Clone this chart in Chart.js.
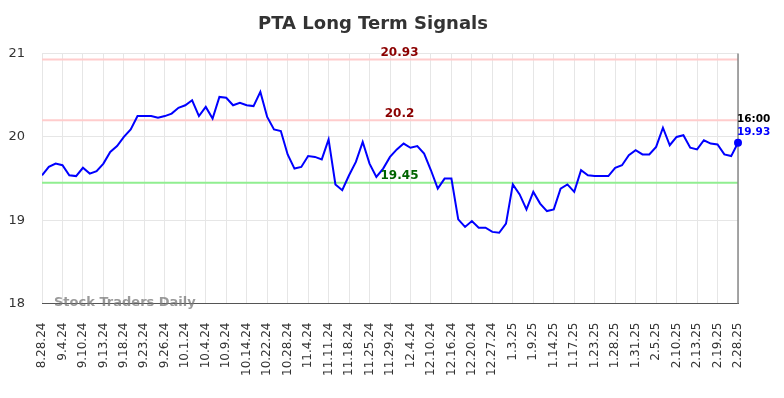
<!DOCTYPE html>
<html>
<head>
<meta charset="utf-8">
<script src="https://cdn.jsdelivr.net/npm/chart.js@4.4.1/dist/chart.umd.min.js"></script>
<style>
    html, body { margin: 0; padding: 0; background: #fff; }
    #wrap { width: 784px; height: 398px; }
</style>
</head>
<body>
<div id="wrap"><canvas id="signalChart"></canvas></div>
<script>
"use strict";

/// DATA
const tickLabels = [
    '8.28.24', '9.4.24', '9.10.24', '9.13.24', '9.18.24', '9.23.24', '9.26.24',
    '10.1.24', '10.4.24', '10.9.24', '10.14.24', '10.22.24', '10.28.24',
    '11.4.24', '11.11.24', '11.18.24', '11.25.24', '11.29.24',
    '12.4.24', '12.10.24', '12.16.24', '12.20.24', '12.27.24',
    '1.3.25', '1.9.25', '1.14.25', '1.17.25', '1.23.25', '1.28.25', '1.31.25',
    '2.5.25', '2.10.25', '2.13.25', '2.19.25', '2.28.25'
];

const closes = [
    19.54, 19.64, 19.68, 19.66, 19.54, 19.53, 19.63, 19.56, 19.59, 19.68,
    19.82, 19.89, 20.00, 20.09, 20.25, 20.25, 20.25, 20.23, 20.25, 20.28,
    20.35, 20.38, 20.44, 20.25, 20.36, 20.22, 20.48, 20.47, 20.38, 20.41,
    20.38, 20.37, 20.54, 20.24, 20.09, 20.07, 19.79, 19.62, 19.64, 19.77,
    19.76, 19.73, 19.97, 19.43, 19.36, 19.54, 19.70, 19.94, 19.68, 19.52,
    19.62, 19.76, 19.85, 19.92, 19.87, 19.89, 19.80, 19.60, 19.38, 19.50,
    19.50, 19.01, 18.92, 18.99, 18.91, 18.91, 18.86, 18.85, 18.96, 19.43,
    19.31, 19.13, 19.34, 19.20, 19.11, 19.13, 19.38, 19.43, 19.34, 19.60,
    19.54, 19.53, 19.53, 19.53, 19.63, 19.66, 19.78, 19.84, 19.79, 19.79,
    19.88, 20.11, 19.90, 20.00, 20.02, 19.87, 19.85, 19.96, 19.92, 19.91,
    19.79, 19.77, 19.93
];

const signalLevels = [20.93, 20.2, 19.45];
const signalLineColors = ['#ffcccc', '#ffcccc', '#90ee90'];
const signalTextColors = ['#8b0000', '#8b0000', '#006400'];

const lastTime = '16:00';
const yTicks = [18, 19, 20, 21];

const FONT = "'DejaVu Sans', sans-serif";
const pointsPerTick = 3;
const lastIndex = closes.length - 1;

// price series as x/y pairs (x is the trading-day index)
const pricePoints = closes.map((v, i) => ({ x: i, y: v }));

// signal levels run the full width of the plot
const levelSets = signalLevels.map((lvl, k) => ({
    data: [{ x: 0, y: lvl }, { x: lastIndex, y: lvl }],
    borderColor: signalLineColors[k],
    borderWidth: 2,
    pointRadius: 0,
    order: 2
}));

// labels over the levels, watermark and last price tag
const overlayPlugin = {
    id: 'overlay',
    afterDatasetsDraw(chart) {
        const { ctx, chartArea, scales } = chart;
        const xs = scales.x, ys = scales.y;
        ctx.save();

        // right border
        ctx.strokeStyle = '#888';
        ctx.lineWidth = 1.5;
        ctx.beginPath();
        ctx.moveTo(chartArea.right, chartArea.top);
        ctx.lineTo(chartArea.right, chartArea.bottom);
        ctx.stroke();

        ctx.font = 'bold 12px ' + FONT;
        ctx.textAlign = 'center';
        ctx.textBaseline = 'alphabetic';
        const midX = (chartArea.left + chartArea.right) / 2 + 9.5;
        signalLevels.forEach((lvl, k) => {
            ctx.fillStyle = signalTextColors[k];
            ctx.fillText(String(lvl), midX, ys.getPixelForValue(lvl) - 3.5);
        });

        // watermark
        ctx.font = 'bold 13px ' + FONT;
        ctx.textAlign = 'left';
        ctx.textBaseline = 'middle';
        ctx.fillStyle = 'rgba(120,120,120,0.75)';
        ctx.fillText('Stock Traders Daily', chartArea.left + 12, chartArea.bottom - 1);

        // last point: dot and labels
        const px = xs.getPixelForValue(lastIndex);
        const py = ys.getPixelForValue(closes[lastIndex]);
        ctx.fillStyle = '#0000ff';
        ctx.beginPath();
        ctx.arc(px, py, 4, 0, Math.PI * 2);
        ctx.fill();

        ctx.font = 'bold 10.5px ' + FONT;
        ctx.fillStyle = '#000';
        ctx.fillText(lastTime, px - 1, py - 23.5);
        ctx.fillStyle = '#0000ff';
        ctx.fillText(closes[lastIndex].toFixed(2), px - 1, py - 10);

        ctx.restore();
    }
};

const config = {
    type: 'line',
    data: {
        datasets: [
            {
                data: pricePoints,
                borderColor: '#0000ff',
                backgroundColor: '#0000ff',
                borderWidth: 2,
                tension: 0,
                fill: false,
                pointRadius: 0,
                pointHoverRadius: 0,
                order: 1
            },
            ...levelSets
        ]
    },
    options: {
        responsive: true,
        maintainAspectRatio: false,
        animation: false,
        layout: {
            padding: { left: 8, right: 46, top: 0, bottom: 3 }
        },
        plugins: {
            legend: { display: false },
            tooltip: { enabled: false },
            title: {
                display: true,
                text: 'PTA Long Term Signals',
                color: '#333',
                font: { family: FONT, size: 18, weight: 'bold' },
                padding: { top: 14, bottom: 18 }
            }
        },
        scales: {
            x: {
                type: 'linear',
                min: 0,
                max: lastIndex,
                grid: { color: '#e6e6e6', drawTicks: false },
                border: { display: true, color: '#555', width: 1 },
                ticks: {
                    stepSize: pointsPerTick,
                    autoSkip: false,
                    maxRotation: 90,
                    minRotation: 90,
                    padding: 19,
                    color: '#333',
                    font: { family: FONT, size: 12 },
                    callback: (v) => tickLabels[Math.round(v / pointsPerTick)] || ''
                }
            },
            y: {
                min: yTicks[0],
                max: yTicks[yTicks.length - 1],
                grid: { color: '#e6e6e6', drawTicks: false },
                border: { display: false },
                afterFit: (scale) => { scale.width = 34; },
                ticks: {
                    stepSize: 1,
                    padding: 17,
                    color: '#333',
                    font: { family: FONT, size: 13 }
                }
            }
        }
    },
    plugins: [overlayPlugin]
};

var signalChart = new Chart(document.getElementById('signalChart'), config);
</script>
</body>
</html>
